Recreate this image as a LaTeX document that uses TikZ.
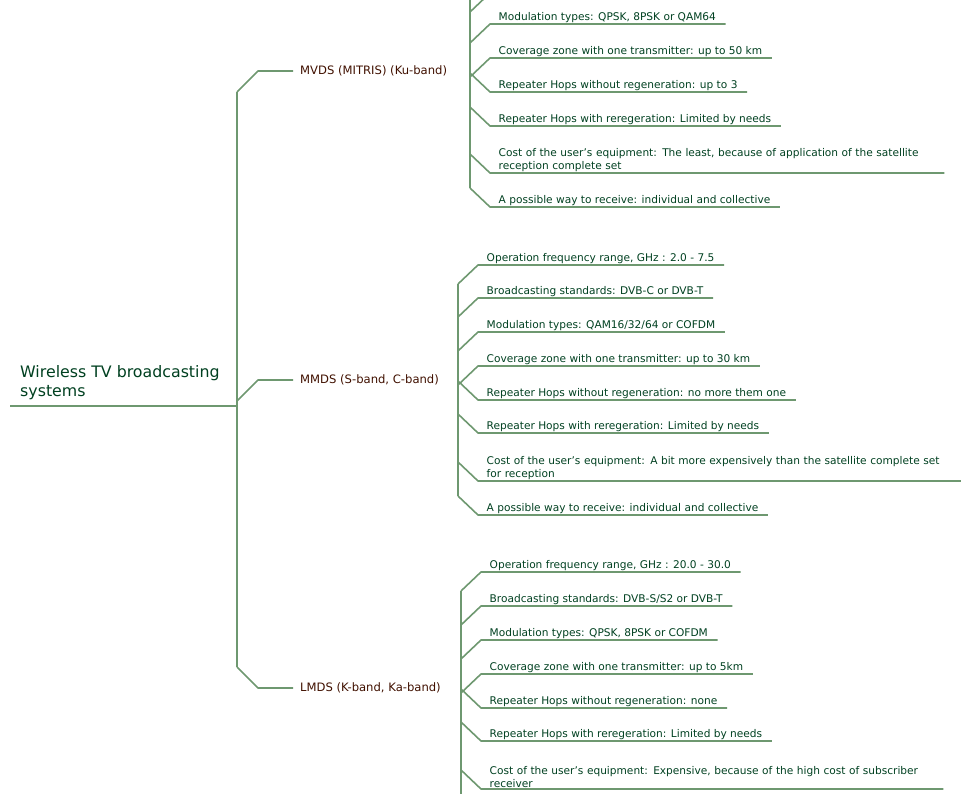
\documentclass[tikz,border=0pt]{standalone}
\usepackage{fontspec}
\setmainfont{DejaVu Sans}
\definecolor{branchgreen}{RGB}{110,152,112}
\definecolor{leafink}{RGB}{0,64,32}
\definecolor{midink}{RGB}{64,16,0}
\tikzset{
  conn/.style={draw=branchgreen, line width=1.6pt, line join=round},
  leaf/.style={font=\fontsize{10.6}{12.5}\selectfont, text=leafink, inner sep=1.5pt, align=left},
  plain/.style={},
  costv/.style={text width=436pt},
  costm/.style={text width=466pt},
  costl/.style={text width=444pt},
  mid/.style={font=\fontsize{11.6}{13}\selectfont, text=midink, inner sep=1pt, anchor=west},
  rootbox/.style={font=\fontsize{15.8}{19}\selectfont, text=leafink, align=left, inner sep=1pt, anchor=south west}
}
% leaf: #1 name, #2 spine x, #3 line y, #4 side (+1 above, -1 below), #5 style, #6 text
\newcommand{\leafitem}[6]{%
  \coordinate (#1s) at (#2,#3+19*#4);
  \coordinate (#1k) at (#2+20,#3);
  \node[leaf, #5, anchor=south west] (#1) at (#2+27,#3) {#6};
  \draw[conn] (#1s) -- (#1k) -- ([xshift=8]#1.south east);
}
\begin{document}
\begin{tikzpicture}[x=1pt,y=-1pt]
  \useasboundingbox (0,0) rectangle (961,794);
  \clip (0,0) rectangle (961,794);

  % root
  \node[rootbox] (root) at (19,401) {Wireless TV broadcasting\\systems};
  \coordinate (rootend) at (10,406);
  \coordinate (hub) at (237,406);
  \draw[conn] (rootend) -- (hub);
  \coordinate (spineA) at (237,92);
  \coordinate (spineB) at (237,667);
  \draw[conn] (spineA) -- (spineB);

  % second level
  \foreach \n/\yy/\sd/\txt in {mvds/71/1/{MVDS (MITRIS) (Ku-band)},
                               mmds/380/1/{MMDS (S-band, C-band)},
                               lmds/688/-1/{LMDS (K-band, Ka-band)}}{
    \coordinate (\n s) at (237,\yy+21*\sd);
    \coordinate (\n k) at (258,\yy);
    \coordinate (\n e) at (293,\yy);
    \draw[conn] (\n s) -- (\n k) -- (\n e);
    \node[mid] (\n) at (299,\yy) {\txt};
  }

  % MVDS leaves
  \coordinate (mvdstop) at (470,0);
  \coordinate (mvdsbot) at (470,188);
  \draw[conn] (mvdstop) -- (mvdsbot);
  \coordinate (mvdsxs) at (470,12);
  \coordinate (mvdsxk) at (490,-7);
  \draw[conn] (mvdsxs) -- (mvdsxk) -- ++(200,0);
  \foreach \n/\yy/\sd/\st/\txt in {
    va/24/1/plain/{Modulation types: QPSK, 8PSK or QAM64},
    vb/58/1/plain/{Coverage zone with one transmitter: up to 50 km},
    vc/92/-1/plain/{Repeater Hops without regeneration: up to 3},
    vd/126/-1/plain/{Repeater Hops with reregeration: Limited by needs},
    ve/173/-1/costv/{Cost of the user's equipment: The least, because of application of the satellite reception complete set},
    vf/207/-1/plain/{A possible way to receive: individual and collective}}{
    \leafitem{\n}{470}{\yy}{\sd}{\st}{\txt}
  }

  % MMDS leaves
  \coordinate (mmdstop) at (458,284);
  \coordinate (mmdsbot) at (458,496);
  \draw[conn] (mmdstop) -- (mmdsbot);
  \foreach \n/\yy/\sd/\st/\txt in {
    ma/265/1/plain/{Operation frequency range, GHz : 2.0 - 7.5},
    mb/298/1/plain/{Broadcasting standards: DVB-C or DVB-T},
    mc/332/1/plain/{Modulation types: QAM16/32/64 or COFDM},
    md/366/1/plain/{Coverage zone with one transmitter: up to 30 km},
    me/400/-1/plain/{Repeater Hops without regeneration: no more them one},
    mf/433/-1/plain/{Repeater Hops with reregeration: Limited by needs},
    mg/481/-1/costm/{Cost of the user's equipment: A bit more expensively than the satellite complete set for reception},
    mh/515/-1/plain/{A possible way to receive: individual and collective}}{
    \leafitem{\n}{458}{\yy}{\sd}{\st}{\txt}
  }

  % LMDS leaves
  \coordinate (lmdstop) at (461,591);
  \coordinate (lmdsbot) at (461,800);
  \draw[conn] (lmdstop) -- (lmdsbot);
  \foreach \n/\yy/\sd/\st/\txt in {
    la/572/1/plain/{Operation frequency range, GHz : 20.0 - 30.0},
    lb/606/1/plain/{Broadcasting standards: DVB-S/S2 or DVB-T},
    lc/640/1/plain/{Modulation types: QPSK, 8PSK or COFDM},
    ld/674/1/plain/{Coverage zone with one transmitter: up to 5km},
    le/708/-1/plain/{Repeater Hops without regeneration: none},
    lf/741/-1/plain/{Repeater Hops with reregeration: Limited by needs},
    lg/789/-1/costl/{Cost of the user's equipment: Expensive, because of the high cost of subscriber receiver}}{
    \leafitem{\n}{461}{\yy}{\sd}{\st}{\txt}
  }
\end{tikzpicture}
\end{document}
